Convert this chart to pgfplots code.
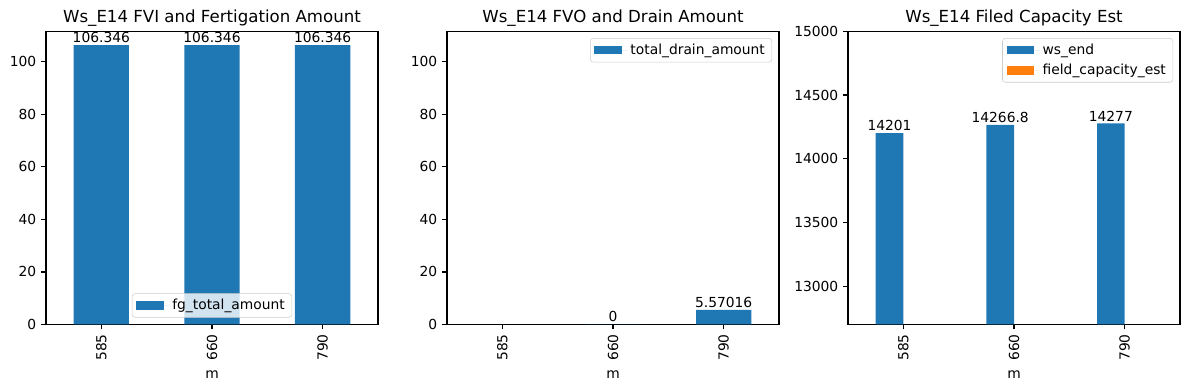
\documentclass[border=0pt]{standalone}
\usepackage{fontspec}
\setmainfont{DejaVu Sans}
\usepackage{pgfplots}
\pgfplotsset{compat=1.18}
\definecolor{tabblue}{HTML}{1F77B4}
\definecolor{taborange}{HTML}{FF7F0E}
\pgfplotsset{
  mystyle/.style={
    scale only axis, width=239.94pt, height=211.97pt, anchor=south west,
    axis line style={line width=0.8pt},
    tick align=outside, major tick length=3.5pt,
    every tick/.style={black, line width=0.8pt},
    xtick={0,1,2}, xticklabels={585,660,790}, xmin=-0.5, xmax=2.5,
    x tick label style={rotate=90, anchor=east},
    xlabel={m},
    xlabel style={at={(0.5,0)}, anchor=base, yshift=-38.8pt},
    ytick pos=left, xtick pos=bottom,
    /pgf/number format/assume math mode=true,
    /pgf/number format/set thousands separator={},
    scaled y ticks=false,
    font=\fontsize{10}{12}\selectfont,
    title style={font=\fontsize{12}{14}\selectfont, at={(0.5,1)}, anchor=base},
    ybar=0pt, bar width=0.5,
    legend image code/.code={\fill[##1, sharp corners, fill opacity=1] (0pt,-3pt) rectangle (20pt,3pt); \path (0pt,0pt) -- (24pt,0pt);},
    legend style={draw=black!20, rounded corners=2pt, fill=white, fill opacity=0.8, text opacity=1,
      font=\fontsize{10}{12}\selectfont, inner xsep=3pt, inner ysep=2pt, row sep=1.5pt,
      cells={anchor=west}},
    every node near coord/.append style={anchor=south, inner sep=0pt, yshift=1.5pt, text=black,
      font=\fontsize{10}{12}\selectfont},
  }
}
\begin{document}
\begin{tikzpicture}
\path[use as bounding box] (0,0) rectangle (859.29pt,281.85pt);
% Panel 1
\begin{axis}[mystyle, at={(33.24pt,47.34pt)},
  title={Ws\_E14 FVI and Fertigation Amount},
  ymin=0, ymax=111.66, ytick={0,20,40,60,80,100},
  legend style={at={(0.5,0)}, anchor=south, yshift=5pt}]
\addplot[fill=tabblue, draw=none, nodes near coords={\pgfplotspointmeta}, point meta=explicit symbolic]
  table[x=x, y=y, meta=l] {
x y l
0 106.346 106.346
1 106.346 106.346
2 106.346 106.346
};
\addlegendentry{fg\_total\_amount}
\end{axis}
% Panel 2
\begin{axis}[mystyle, at={(323.05pt,47.34pt)},
  title={Ws\_E14 FVO and Drain Amount},
  ymin=0, ymax=111.66, ytick={0,20,40,60,80,100},
  legend style={at={(1,1)}, anchor=north east, xshift=-5pt, yshift=-5pt}]
\addplot[fill=tabblue, draw=none, nodes near coords={\pgfplotspointmeta}, point meta=explicit symbolic]
  table[x=x, y=y, meta=l] {
x y l
1 0 0
2 5.57016 5.57016
};
\addlegendentry{total\_drain\_amount}
\end{axis}
% Panel 3
\begin{axis}[mystyle, at={(612.85pt,47.34pt)},
  title={Ws\_E14 Filed Capacity Est},
  ymin=12702, ymax=15000, ytick={13000,13500,14000,14500,15000},
  bar width=0.25,
  legend style={at={(1,1)}, anchor=north east, xshift=-5pt, yshift=-5pt}]
\addplot[fill=tabblue, draw=none, bar shift=-0.125, nodes near coords={\pgfplotspointmeta}, point meta=explicit symbolic]
  table[x=x, y=y, meta=l] {
x y l
0 14201 14201
1 14266.8 14266.8
2 14277 14277
};
\addlegendentry{ws\_end}
\addlegendimage{fill=taborange, draw=none}
\addlegendentry{field\_capacity\_est}
\end{axis}
\end{tikzpicture}
\end{document}
